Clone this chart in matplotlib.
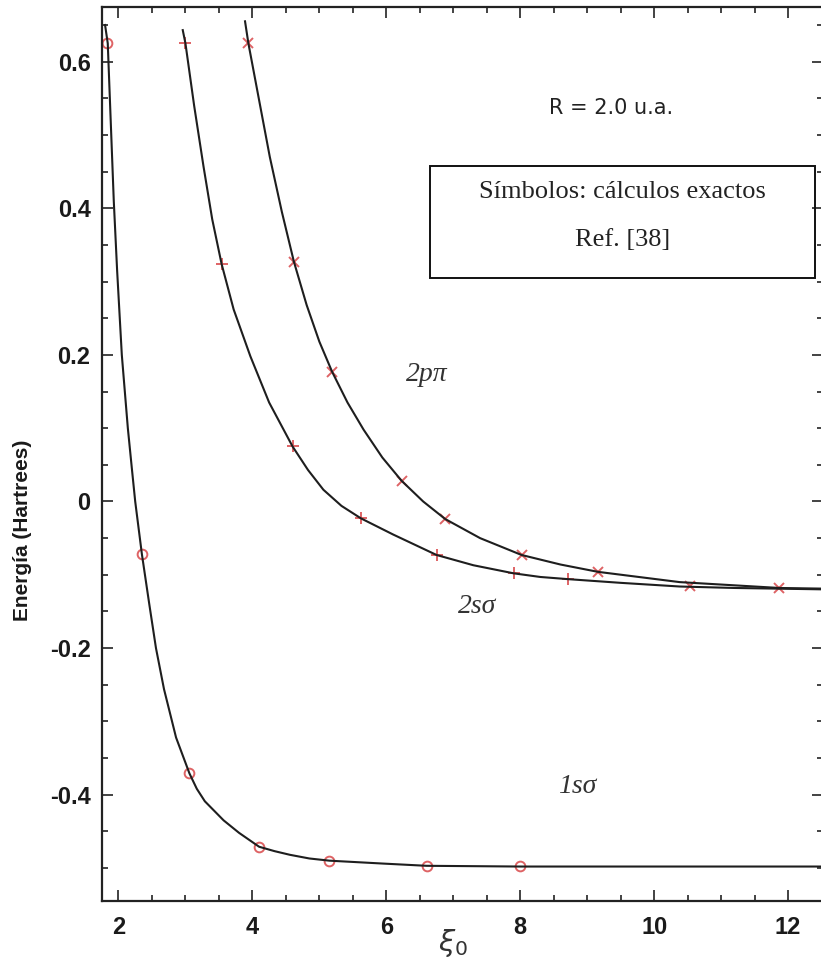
import matplotlib.pyplot as plt
from matplotlib.patches import Rectangle
from matplotlib.ticker import MultipleLocator

# traced curves: box size xi0 vs energy (hartrees)
xi_1s = [1.80, 1.84, 1.93, 1.98, 2.05, 2.14, 2.20, 2.25, 2.35, 2.46, 2.56,
         2.68, 2.86, 3.06, 3.17, 3.29, 3.57, 3.80, 4.10, 4.33, 4.56, 4.85,
         5.15, 5.96, 6.60, 8.00, 10.00, 12.60]
e_1s = [0.650, 0.625, 0.410, 0.315, 0.200, 0.100, 0.045, 0.000, -0.072,
        -0.140, -0.200, -0.256, -0.322, -0.371, -0.392, -0.409, -0.435,
        -0.452, -0.471, -0.477, -0.482, -0.487, -0.490, -0.494, -0.497,
        -0.498, -0.498, -0.498]

xi_2s = [2.96, 3.00, 3.13, 3.27, 3.40, 3.54, 3.72, 3.97, 4.25, 4.60, 4.83,
         5.06, 5.33, 5.62, 6.10, 6.75, 7.30, 7.90, 8.30, 8.72, 9.50, 10.38,
         11.20, 12.60]
e_2s = [0.643, 0.625, 0.540, 0.457, 0.385, 0.324, 0.262, 0.198, 0.135,
        0.075, 0.043, 0.016, -0.006, -0.023, -0.045, -0.073, -0.087,
        -0.098, -0.103, -0.106, -0.111, -0.116, -0.118, -0.120]

xi_2p = [3.89, 3.94, 4.26, 4.44, 4.62, 4.81, 5.00, 5.19, 5.42, 5.66, 5.94,
         6.23, 6.55, 6.88, 7.40, 8.02, 8.60, 9.16, 10.38, 11.87, 12.60]
e_2p = [0.655, 0.625, 0.470, 0.395, 0.327, 0.268, 0.218, 0.177, 0.135,
        0.098, 0.060, 0.028, 0.000, -0.024, -0.050, -0.073, -0.086, -0.096,
        -0.110, -0.118, -0.119]

# exact results, Ref. [38]
ex_1s_x = [1.83, 2.35, 3.06, 4.10, 5.15, 6.60, 7.99]
ex_1s_y = [0.625, -0.072, -0.371, -0.471, -0.490, -0.497, -0.497]

ex_2s_x = [3.00, 3.54, 4.60, 5.62, 6.75, 7.90, 8.72]
ex_2s_y = [0.625, 0.324, 0.075, -0.023, -0.073, -0.098, -0.106]

ex_2p_x = [3.94, 4.62, 5.19, 6.23, 6.88, 8.02, 9.16, 10.53, 11.87]
ex_2p_y = [0.625, 0.327, 0.177, 0.028, -0.024, -0.073, -0.096, -0.115,
           -0.118]

x_ticks = [2, 4, 6, 8, 10, 12]
y_ticks = [-0.4, -0.2, 0.0, 0.2, 0.4, 0.6]
y_tick_labels = ["-0.4", "-0.2", "0", "0.2", "0.4", "0.6"]

red = "#d9484a"
line_color = "#1e1e1e"

fig = plt.figure(figsize=(8.21, 9.66), dpi=100)
ax = fig.add_axes([0.1239, 0.0673, 0.8785, 0.9255])

ax.plot(ex_1s_x, ex_1s_y, "o", ms=7, mfc="none", mec=red, mew=1.4,
        alpha=0.85, zorder=2)
ax.plot(ex_2s_x, ex_2s_y, "+", ms=9, mec=red, mew=1.4, alpha=0.85,
        zorder=2)
ax.plot(ex_2p_x, ex_2p_y, "x", ms=7.5, mec=red, mew=1.4, alpha=0.85,
        zorder=2)

for xs, ys in [(xi_1s, e_1s), (xi_2s, e_2s), (xi_2p, e_2p)]:
    ax.plot(xs, ys, color=line_color, lw=1.5, zorder=3)

ax.set_xlim(1.75, 12.52)
ax.set_ylim(-0.545, 0.6746)

ax.set_xticks(x_ticks)
ax.set_yticks(y_ticks)
ax.set_yticklabels(y_tick_labels)
ax.xaxis.set_minor_locator(MultipleLocator(0.5))
ax.yaxis.set_minor_locator(MultipleLocator(0.05))
ax.tick_params(which="both", direction="in", top=True, right=True,
               width=1.2, color="#222222")
ax.tick_params(which="major", length=8)
ax.tick_params(which="minor", length=4)
ax.tick_params(axis="x", pad=11)
ax.tick_params(axis="y", pad=8)
for lab in ax.get_xticklabels() + ax.get_yticklabels():
    lab.set_fontfamily("Liberation Sans")
    lab.set_fontweight("bold")
    lab.set_fontsize(17)
    lab.set_color("#1a1a1a")

for sp in ax.spines.values():
    sp.set_linewidth(1.6)
    sp.set_color("#222222")

fig.text(23 / 821, 1 - 530 / 966, "Energía (Hartrees)", rotation=90,
         ha="center", va="center", fontsize=15, fontweight="bold",
         family="Liberation Sans", color="#1a1a1a")
fig.text(453 / 821, 1 - 943 / 966, r"$\xi_0$", ha="center", va="center",
         fontsize=21, color="#333333")

ax.text(9.36, 0.537, "R = 2.0 u.a.", ha="center", va="center",
        fontsize=15, family="DejaVu Sans", color="#222222")

ax.add_patch(Rectangle((6.65, 0.3048), 5.75, 0.1529, fill=False,
                       ec="#111111", lw=1.4, zorder=4))
ax.text(9.53, 0.4226, "Símbolos: cálculos exactos", ha="center",
        va="center", fontsize=19, family="Liberation Serif", color="#222222")
ax.text(9.53, 0.357, "Ref. [38]", ha="center", va="center", fontsize=19,
        family="Liberation Serif", color="#222222")

state_font = dict(ha="center", va="center", fontsize=20,
                  family="Liberation Serif", style="italic", color="#333333")
ax.text(6.60, 0.1726, "2pπ", **state_font)
ax.text(7.35, -0.1435, "2sσ", **state_font)
ax.text(8.85, -0.389, "1sσ", **state_font)

fig.savefig("out.png", dpi=100)
plt.close(fig)
